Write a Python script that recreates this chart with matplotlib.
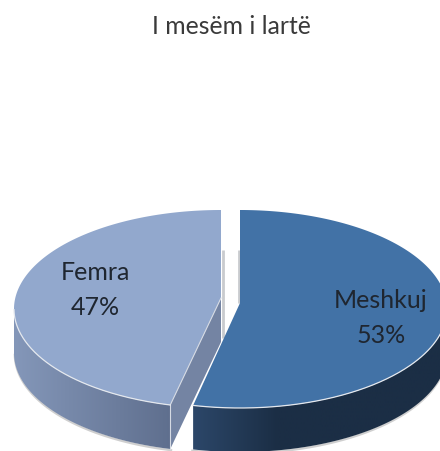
import numpy as np
import matplotlib
matplotlib.use("Agg")
import matplotlib.pyplot as plt
from matplotlib.patches import Polygon
from matplotlib.colors import LinearSegmentedColormap

title = "I mesëm i lartë"
categories = ["Femra", "Meshkuj"]
values = [47, 53]

W, H = 440, 451
DEPTH = 44
A, B = 207, 99
CY = 309
STYLE = {
    "Femra": dict(cx=221, apex=298, sweep_scale=0.98, direction=1, top="#92A8CD",
                  side=["#8497B9", "#5F6F8E"], cut="#7484A3", label=(95, 290)),
    "Meshkuj": dict(cx=240, apex=303, sweep_scale=1.012, direction=-1, top="#4272A6",
                    side=["#2C4769", "#1B2E45", "#1B2E45", "#1B2E45"], cut="#2C4769", label=(381, 318)),
}

fig = plt.figure(figsize=(W / 100, H / 100), dpi=100)
ax = fig.add_axes([0, 0, 1, 1])
ax.set_xlim(0, W)
ax.set_ylim(H, 0)
ax.axis("off")


def rim(value, s):
    sweep = 360 * value / sum(values) * s["sweep_scale"] * s["direction"]
    t = np.radians(np.linspace(90, 90 + sweep, 300))
    return s["cx"] + A * np.cos(t), CY - B * np.sin(t)


def gradient_poly(pts, colors, x0, x1, zorder):
    cmap = LinearSegmentedColormap.from_list("g", colors)
    im = ax.imshow(np.linspace(0, 1, 256)[None, :], cmap=cmap, aspect="auto",
                   extent=[x0, x1, H, 0], zorder=zorder, interpolation="bilinear")
    patch = Polygon(pts, closed=True, transform=ax.transData, fc="none", ec="none")
    ax.add_patch(patch)
    im.set_clip_path(patch)


for name, value in zip(categories, values):
    s = STYLE[name]
    x, y = rim(value, s)
    tip = (x[-1], y[-1])
    apex = (s["cx"], s["apex"])

    # soft grey shadow along the gap
    sx = s["cx"] + s["direction"] * 1.5
    ax.plot([sx, sx], [250, s["apex"] + 40 if name == "Femra" else s["apex"]],
            color="#C9CBCE", lw=2.0, zorder=1, solid_capstyle="butt")

    # outer side wall (only the part of the rim facing the viewer)
    mask = y >= CY
    xs, ys = x[mask], y[mask]
    wall = np.column_stack([np.r_[xs, xs[::-1]], np.r_[ys, ys[::-1] + DEPTH]])
    ax.plot(xs + 0.8 * s["direction"], ys + DEPTH + 1.2, color="#CFCFCF", lw=1.6, zorder=2)
    gradient_poly(wall, s["side"], xs.min(), xs.max(), 3)

    # cut face of the wedge
    if name == "Femra":
        cut = [apex, tip, (tip[0], tip[1] + DEPTH), (apex[0], apex[1] + DEPTH)]
        ax.add_patch(Polygon(cut, closed=True, fc=s["cut"], ec="none", zorder=3))
        ax.plot([tip[0], tip[0]], [tip[1], tip[1] + DEPTH], color="#D5DAE3", lw=0.8, zorder=4)
        ax.plot([apex[0], tip[0]], [apex[1], tip[1]], color="#D5DAE3", lw=0.8, zorder=5)

    # top surface
    top = np.column_stack([np.r_[apex[0], x], np.r_[apex[1], y]])
    ax.add_patch(Polygon(top, closed=True, fc=s["top"], ec="none", zorder=4))
    ax.plot(xs, ys, color="#E4E8EE", lw=0.9, zorder=5)

    ax.text(*s["label"], f"{name}\n{value}%", ha="center", va="center", fontsize=18,
            family="Lato", color="#1F2630", linespacing=1.6, zorder=6)

ax.text(231, 27, title, ha="center", va="center", fontsize=17.8,
        family="Lato", color="#3A3A3A")
ax.set_xlim(0, W)
ax.set_ylim(H, 0)
fig.savefig("out.png", dpi=100)
